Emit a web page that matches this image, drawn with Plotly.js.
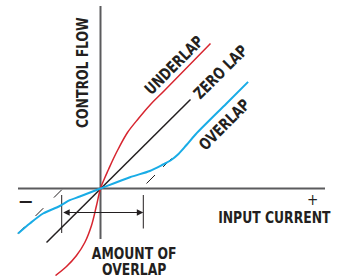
<!DOCTYPE html>
<html>
<head>
<meta charset="utf-8">
<script src="https://cdn.plot.ly/plotly-3.0.1.min.js"></script>
<style>html,body{margin:0;padding:0;background:#fff;}#chart{width:348px;height:276px;}</style>
</head>
<body>
<div id="chart"></div>
<script>
// Input current (x) vs control flow (y), origin at the axis crossing
const zeroLapX = [-54, 90];
const zeroLapY = [-54, 89];

const underlapX = [-45, -34, -24, -15.7, -9, -4, 0, 4, 8, 13, 18, 27, 38, 50, 64, 110];
const underlapY = [-87, -78, -67, -54, -37, -17, 0, 10, 19, 30, 40, 56, 70, 84, 98, 145];

const overlapX = [-82.4, -70.7, -57.4, -40.7, -30.7, -20.7, 0, 29.5, 49.3, 62.6, 70, 78, 86, 95, 126, 147.6];
const overlapY = [-45, -35, -25, -17.5, -11.7, -8, 0, 11.3, 17.5, 24, 28, 34.5, 43.5, 54, 85, 106.6];

// dashed asymptotes of the overlap curve
const asymUpperX = [46, 71];
const asymUpperY = [5, 30];
const asymLowerX = [-38.8, -82.5];
const asymLowerY = [-1.3, -45];

// amount of overlap markers
const overlapEdgesX = [-38.8, 42.8];

const labels = {
  yTitle: 'CONTROL FLOW', xTitle: 'INPUT CURRENT',
  plus: '+', minus: '—',
  underlap: 'UNDERLAP', zero: 'ZERO LAP', over: 'OVERLAP',
  amount: ['AMOUNT OF', 'OVERLAP']
};

const ink = '#231f20';
const axisCol = '#5b5b5d';
const red = '#d7252f';
const blue = '#19ace6';
const fam = '"Liberation Sans Narrow", "Arial Narrow", "DejaVu Sans Condensed", sans-serif';

const traces = [
  {x: [0, 0], y: [182.5, -50.5], mode: 'lines', line: {color: axisCol, width: 2}},
  {x: [-82.5, 224.5], y: [0, 0], mode: 'lines', line: {color: axisCol, width: 2}},
  {x: [overlapEdgesX[0], overlapEdgesX[0]], y: [-6.5, -44.5], mode: 'lines', line: {color: ink, width: 1}},
  {x: [overlapEdgesX[1], overlapEdgesX[1]], y: [-6.5, -40], mode: 'lines', line: {color: ink, width: 1}},
  {x: asymUpperX, y: asymUpperY, mode: 'lines', line: {color: ink, width: 1, dash: '12px,11.5px'}},
  {x: asymLowerX, y: asymLowerY, mode: 'lines', line: {color: ink, width: 1, dash: '11px,15px'}},
  {x: zeroLapX, y: zeroLapY, mode: 'lines', line: {color: ink, width: 1.5}},
  {x: underlapX, y: underlapY, mode: 'lines', line: {color: red, width: 1.5, shape: 'spline', smoothing: 1}},
  {x: overlapX, y: overlapY, mode: 'lines', line: {color: blue, width: 2, shape: 'spline', smoothing: 0.8}}
];

function lab(text, x, y, angle, size, weight) {
  return {text: text, x: x, y: y, xref: 'x', yref: 'y', showarrow: false,
    xanchor: 'center', yanchor: 'middle', textangle: angle || 0, borderpad: 0,
    font: {family: fam, size: size || 16, color: ink, weight: weight || 'bold'}};
}

const annotations = [
  lab(labels.yTitle, -18.5, 115.5, -90),
  lab(labels.xTitle, 173.5, -29),
  lab(labels.plus, 211.5, -11.5, 0, 15, 'normal'),
  lab(labels.minus, -74.5, -12.5, 0, 15),
  lab(labels.underlap, 73, 123.5, -45),
  lab(labels.zero, 119.5, 116, -45),
  lab(labels.over, 124, 64, -45),
  lab(labels.amount.join('<br>'), 33, -75.4),
  {x: overlapEdgesX[1], y: -24, ax: overlapEdgesX[0], ay: -24, xref: 'x', yref: 'y',
   axref: 'x', ayref: 'y', text: '', showarrow: true, arrowhead: 2, startarrowhead: 2,
   arrowside: 'end+start', arrowsize: 1.3, startarrowsize: 1.3, arrowwidth: 1,
   arrowcolor: ink, standoff: 0, startstandoff: 0}
];

const layout = {
  width: 348, height: 276,
  margin: {l: 0, r: 0, t: 0, b: 0, pad: 0},
  paper_bgcolor: '#fff', plot_bgcolor: '#fff',
  showlegend: false,
  xaxis: {range: [-100.5, 247.5], visible: false, fixedrange: true},
  yaxis: {range: [-87.5, 188.5], visible: false, fixedrange: true},
  annotations: annotations
};

Plotly.newPlot('chart', traces, layout, {displayModeBar: false, staticPlot: true}).then(function (gd) {
  // condense the bold labels to match the narrow lettering of the original
  const skip = [labels.plus, labels.minus];
  function squeeze(el) {
    const len = el.getComputedTextLength();
    el.setAttribute('textLength', (len * 0.86).toFixed(1));
    el.setAttribute('lengthAdjust', 'spacingAndGlyphs');
  }
  gd.querySelectorAll('text.annotation-text').forEach(function (t) {
    const s = t.textContent;
    if (!s || skip.indexOf(s) >= 0) return;
    const lines = t.querySelectorAll('tspan.line');
    if (lines.length > 1) {
      lines.forEach(function (ln, i) {
        squeeze(ln);
        if (i > 0) ln.setAttribute('dy', '0.97em');
      });
    } else {
      squeeze(t);
    }
  });
});
</script>
</body>
</html>
